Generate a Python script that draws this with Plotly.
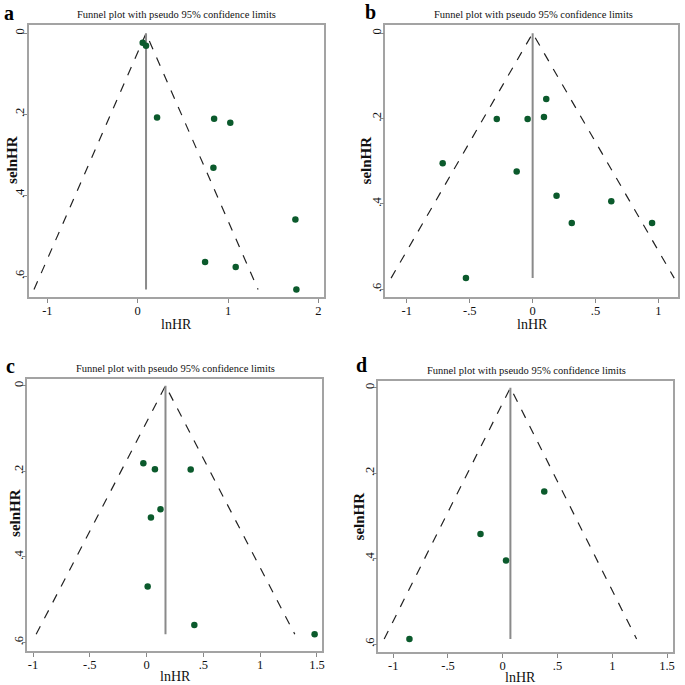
import plotly.graph_objects as go

W = H = 685

# ---------------- data ----------------
a_lnhr = [0.055, 0.092, 0.214, 0.846, 1.025, 0.838, 1.746, 0.746, 1.085, 1.757]
a_se = [0.023, 0.031, 0.208, 0.211, 0.221, 0.332, 0.460, 0.565, 0.577, 0.633]
a_pooled = 0.092

b_lnhr = [0.108, -0.285, -0.040, 0.090, -0.715, -0.127, 0.190, 0.625, 0.311, 0.949, -0.530]
b_se = [0.154, 0.201, 0.201, 0.196, 0.305, 0.324, 0.381, 0.394, 0.445, 0.445, 0.574]
b_pooled = 0.0

c_lnhr = [-0.029, 0.073, 0.388, 0.122, 0.038, 0.009, 0.420, 1.479]
c_se = [0.181, 0.195, 0.196, 0.289, 0.308, 0.469, 0.559, 0.581]
c_pooled = 0.166

d_lnhr = [0.379, -0.203, 0.030, -0.852]
d_se = [0.243, 0.342, 0.404, 0.588]
d_pooled = 0.070

y_ticks = [0, 0.2, 0.4, 0.6]
y_ticklabels = ["0", ".2", ".4", ".6"]
a_xticks = [-1, 0, 1, 2]
a_xticklabels = ["-1", "0", "1", "2"]
b_xticks = [-1, -0.5, 0, 0.5, 1]
b_xticklabels = ["-1", "-.5", "0", ".5", "1"]
cd_xticks = [-1, -0.5, 0, 0.5, 1, 1.5]
cd_xticklabels = ["-1", "-.5", "0", ".5", "1", "1.5"]

TITLE = "Funnel plot with pseudo 95% confidence limits"

# ---------------- layout geometry (pixels) ----------------
panels = [
    dict(letter="a", x=a_lnhr, y=a_se, pooled=a_pooled, xt=a_xticks, xtl=a_xticklabels,
         box=(29.3, 325, 25.3, 297.3), xr=[-1.202, 2.058], yr=[-0.0198, 0.652],
         title=(177.5, 15), letterpos=(9, 13), ytitle=(12, 160), xtitle=(177, 324)),
    dict(letter="b", x=b_lnhr, y=b_se, pooled=b_pooled, xt=b_xticks, xtl=b_xticklabels,
         box=(387, 680.7, 25.3, 297.3), xr=[-1.171, 1.153], yr=[-0.0187, 0.619],
         title=(536, 15), letterpos=(372, 12), ytitle=(368, 160), xtitle=(535, 324)),
    dict(letter="c", x=c_lnhr, y=c_se, pooled=c_pooled, xt=cd_xticks, xtl=cd_xticklabels,
         box=(27.5, 323.3, 378.7, 651), xr=[-1.050, 1.543], yr=[-0.0164, 0.620],
         title=(176, 368), letterpos=(10.5, 366), ytitle=(15, 513), xtitle=(176.5, 676)),
    dict(letter="d", x=d_lnhr, y=d_se, pooled=d_pooled, xt=cd_xticks, xtl=cd_xticklabels,
         box=(380, 676, 380.7, 652.3), xr=[-1.136, 1.555], yr=[-0.0164, 0.619],
         title=(528.7, 370.7), letterpos=(363, 365), ytitle=(361, 516), xtitle=(523, 677)),
]

FONT = "Liberation Serif"
fig = go.Figure()
annotations = []
layout_axes = {}


def px2x(p):
    return p / W


def px2y(p):
    return 1 - p / H


for i, p in enumerate(panels):
    n = i + 1
    xa = "x" if n == 1 else f"x{n}"
    ya = "y" if n == 1 else f"y{n}"
    maxse = max(p["y"])
    c = p["pooled"]
    # pseudo 95% confidence limits
    fig.add_trace(go.Scatter(
        x=[c - 1.96 * maxse, c, c + 1.96 * maxse], y=[maxse, 0, maxse],
        mode="lines", line=dict(color="#222222", width=1.2, dash="dash"),
        xaxis=xa, yaxis=ya, showlegend=False, hoverinfo="skip"))
    # pooled estimate line
    fig.add_trace(go.Scatter(
        x=[c, c], y=[0, maxse], mode="lines",
        line=dict(color="#8a8a8a", width=2), xaxis=xa, yaxis=ya,
        showlegend=False, hoverinfo="skip"))
    # studies
    fig.add_trace(go.Scatter(
        x=p["x"], y=p["y"], mode="markers",
        marker=dict(color="#0b5a2c", size=6.5, line=dict(width=0)),
        xaxis=xa, yaxis=ya, showlegend=False))

    x0, x1, y0, y1 = p["box"]
    axis_common = dict(showgrid=False, zeroline=False, showline=True, mirror=True,
                       linecolor="#a3a3a3", linewidth=1.6, ticks="outside",
                       ticklen=4, tickwidth=1, tickcolor="#888888",
                       tickfont=dict(family=FONT, size=12.5, color="#111111"))
    layout_axes["xaxis" if n == 1 else f"xaxis{n}"] = dict(
        axis_common, domain=[px2x(x0), px2x(x1)], range=p["xr"],
        tickmode="array", tickvals=p["xt"], ticktext=p["xtl"],
        ticklabelstandoff=-3, anchor=ya)
    layout_axes["yaxis" if n == 1 else f"yaxis{n}"] = dict(
        axis_common, domain=[px2y(y1), px2y(y0)], range=[p["yr"][1], p["yr"][0]],
        tickmode="array", tickvals=y_ticks, ticktext=y_ticklabels,
        ticklabelstandoff=-6, tickangle=-90, anchor=xa)

    annotations.append(dict(text=TITLE, x=px2x(p["title"][0]), y=px2y(p["title"][1]),
                            xref="paper", yref="paper", showarrow=False,
                            xanchor="center", yanchor="middle",
                            font=dict(family=FONT, size=10.5, color="#111111")))
    annotations.append(dict(text="<b>" + p["letter"] + "</b>", x=px2x(p["letterpos"][0]),
                            y=px2y(p["letterpos"][1]), xref="paper", yref="paper",
                            showarrow=False, xanchor="center", yanchor="middle",
                            font=dict(family=FONT, size=20, color="#000000")))
    annotations.append(dict(text="<b>selnHR</b>", x=px2x(p["ytitle"][0]), y=px2y(p["ytitle"][1]),
                            xref="paper", yref="paper", showarrow=False, textangle=-90,
                            xanchor="center", yanchor="middle",
                            font=dict(family=FONT, size=15, color="#111111")))
    annotations.append(dict(text="lnHR", x=px2x(p["xtitle"][0]), y=px2y(p["xtitle"][1]),
                            xref="paper", yref="paper", showarrow=False,
                            xanchor="center", yanchor="middle",
                            font=dict(family=FONT, size=14, color="#111111")))

fig.update_layout(
    width=W, height=H, margin=dict(l=0, r=0, t=0, b=0),
    paper_bgcolor="white", plot_bgcolor="white",
    annotations=annotations, **layout_axes)

fig.write_html("out.html", config={"displayModeBar": False},
               post_script="document.body.style.margin='0';document.body.style.overflow='hidden';")
